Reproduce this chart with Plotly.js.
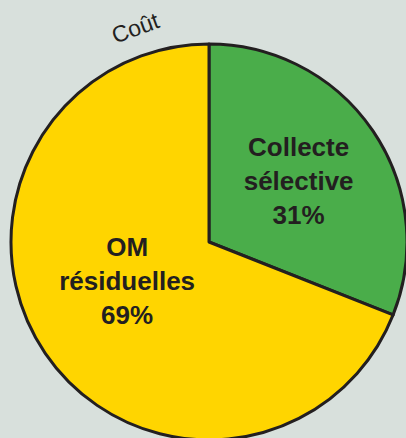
<!DOCTYPE html>
<html>
<head>
<meta charset="utf-8">
<script src="https://cdn.plot.ly/plotly-3.0.1.min.js"></script>
<style>
html,body{margin:0;padding:0;overflow:hidden;background:#d8e0dc;}
#chart{width:420px;height:442px;}
</style>
</head>
<body>
<div id="chart"></div>
<script>
const labels = ["Collecte<br>sélective", "OM<br>résiduelles"];
const values = [31, 69];
const colors = ["#4aad4a", "#ffd500"];
const chartTitle = "Coût";

const W = 420, H = 442;
const cx = 209, cy = 242, r = 198;

const trace = {
  type: "pie",
  labels: labels,
  values: values,
  sort: false,
  direction: "clockwise",
  rotation: 0,
  marker: {colors: colors, line: {color: "#231f20", width: 3}},
  texttemplate: [
    "<b>%{label}</b><br><b>%{percent:.0%}</b>",
    "<b>%{label}</b><br><b>%{percent:.0%}</b><br>&nbsp;"
  ],
  textposition: "inside",
  insidetextorientation: "horizontal",
  textfont: {family: "Liberation Sans, Arial, sans-serif", size: 26, color: "#231f20"},
  hoverinfo: "none",
  showlegend: false,
  domain: {
    x: [(cx - r) / W, (cx + r) / W],
    y: [1 - (cy + r) / H, 1 - (cy - r) / H]
  }
};

const layout = {
  width: W,
  height: H,
  margin: {l: 0, r: 0, t: 0, b: 0},
  paper_bgcolor: "#d8e0dc",
  plot_bgcolor: "#d8e0dc",
  showlegend: false,
  uniformtext: {mode: "show", minsize: 26},
  annotations: [{
    text: chartTitle,
    xref: "paper", yref: "paper",
    x: 135 / W, y: 1 - 28 / H,
    xanchor: "center", yanchor: "middle",
    showarrow: false,
    textangle: -20,
    font: {family: "Liberation Sans, Arial, sans-serif", size: 23, color: "#231f20"}
  }]
};

Plotly.newPlot("chart", [trace], layout, {staticPlot: true, displayModeBar: false});
</script>
</body>
</html>
